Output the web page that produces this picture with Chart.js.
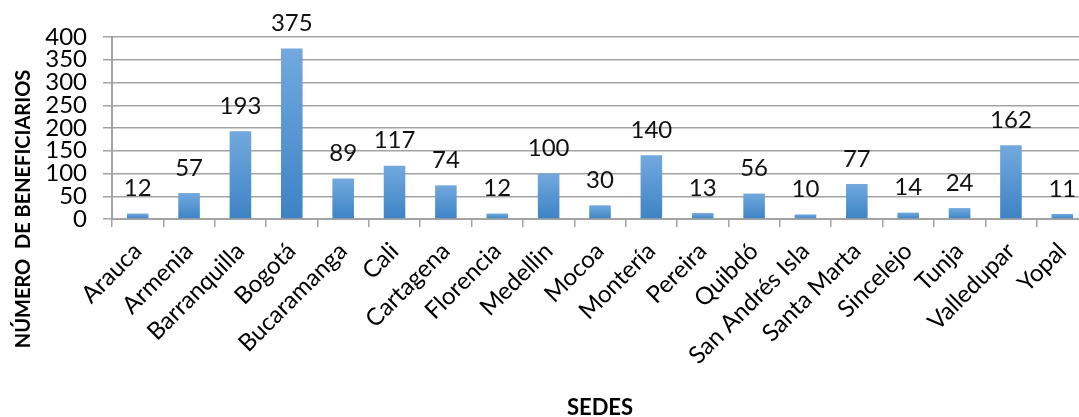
<!DOCTYPE html>
<html>
<head>
<meta charset="utf-8">
<script src="https://cdn.jsdelivr.net/npm/chart.js@4.4.1/dist/chart.umd.min.js"></script>
<style>
    html, body { margin: 0; padding: 0; background: #fff; overflow: hidden; }
    #wrap { position: absolute; left: 0; top: 0; width: 1100px; height: 417px; }
</style>
</head>
<body>
<div id="wrap"><canvas id="chart" width="1100" height="417"></canvas></div>
<script>
const sedes = ['Arauca', 'Armenia', 'Barranquilla', 'Bogotá', 'Bucaramanga', 'Cali', 'Cartagena',
    'Florencia', 'Medellin', 'Mocoa', 'Montería', 'Pereira', 'Quibdó', 'San Andrés Isla',
    'Santa Marta', 'Sincelejo', 'Tunja', 'Valledupar', 'Yopal'];
const beneficiarios = [12, 57, 193, 375, 89, 117, 74, 12, 100, 30, 140, 13, 56, 10, 77, 14, 24, 162, 11];
const yTicks = [0, 50, 100, 150, 200, 250, 300, 350, 400];

const yTitle = 'NÚMERO  DE BENEFICIARIOS';
const xTitle = 'SEDES';
const fontFamily = "Lato, 'Open Sans', sans-serif";
const gridColor = '#a3a3a3';

// gradient per bar: lighter top, darker bottom
function barFill(c) {
    const chart = c.chart;
    if (!chart.chartArea) return '#5b9bd5';
    const y = chart.scales.y;
    const top = y.getPixelForValue(c.raw);
    const bottom = y.getPixelForValue(0);
    const g = chart.ctx.createLinearGradient(0, top, 0, bottom);
    g.addColorStop(0, '#72a9de');
    g.addColorStop(1, '#3d83c5');
    return g;
}

// value labels above bars + axis titles
const labelsPlugin = {
    id: 'labels',
    afterDatasetsDraw(chart) {
        const ctx = chart.ctx;
        const meta = chart.getDatasetMeta(0);
        ctx.save();
        ctx.font = `24px ${fontFamily}`;
        ctx.fillStyle = '#111';
        ctx.textAlign = 'center';
        ctx.textBaseline = 'middle';
        meta.data.forEach((bar, i) => {
            ctx.fillText(String(beneficiarios[i]), bar.x, bar.y - 25);
        });
        ctx.restore();
    },
    afterDraw(chart) {
        const ctx = chart.ctx;
        const area = chart.chartArea;
        ctx.save();
        ctx.fillStyle = '#000';
        ctx.textAlign = 'center';
        ctx.textBaseline = 'middle';

        ctx.font = `bold 20px ${fontFamily}`;
        ctx.translate(24, 209);
        ctx.rotate(-Math.PI / 2);
        ctx.fillText(yTitle, 0, 0);
        ctx.setTransform(1, 0, 0, 1, 0, 0);

        ctx.font = `bold 22px ${fontFamily}`;
        ctx.fillText(xTitle, (area.left + area.right) / 2, 408);
        ctx.restore();
    }
};

new Chart(document.getElementById('chart'), {
    type: 'bar',
    data: {
        labels: sedes,
        datasets: [{
            data: beneficiarios,
            backgroundColor: barFill,
            borderWidth: 0,
            barPercentage: 0.42,
            categoryPercentage: 1
        }]
    },
    options: {
        responsive: false,
        animation: false,
        layout: { padding: { left: 0, right: 12, top: 37, bottom: 0 } },
        plugins: {
            legend: { display: false },
            tooltip: { enabled: false }
        },
        scales: {
            x: {
                afterFit: s => { s.height = 198; },
                grid: {
                    drawOnChartArea: false,
                    tickLength: 8,
                    color: gridColor,
                    lineWidth: 1.5
                },
                border: { color: gridColor, width: 2 },
                ticks: {
                    autoSkip: false,
                    maxRotation: 45,
                    minRotation: 45,
                    padding: 10,
                    color: '#000',
                    font: { family: fontFamily, size: 24 }
                }
            },
            y: {
                min: 0,
                max: 400,
                afterFit: s => { s.width = 112; },
                afterBuildTicks: s => { s.ticks = yTicks.map(v => ({ value: v })); },
                grid: { color: gridColor, lineWidth: 1.5, tickLength: 9 },
                border: { color: gridColor, width: 2 },
                ticks: {
                    autoSkip: false,
                    padding: 16,
                    color: '#000',
                    font: { family: fontFamily, size: 24 }
                }
            }
        }
    },
    plugins: [labelsPlugin]
});
</script>
</body>
</html>
